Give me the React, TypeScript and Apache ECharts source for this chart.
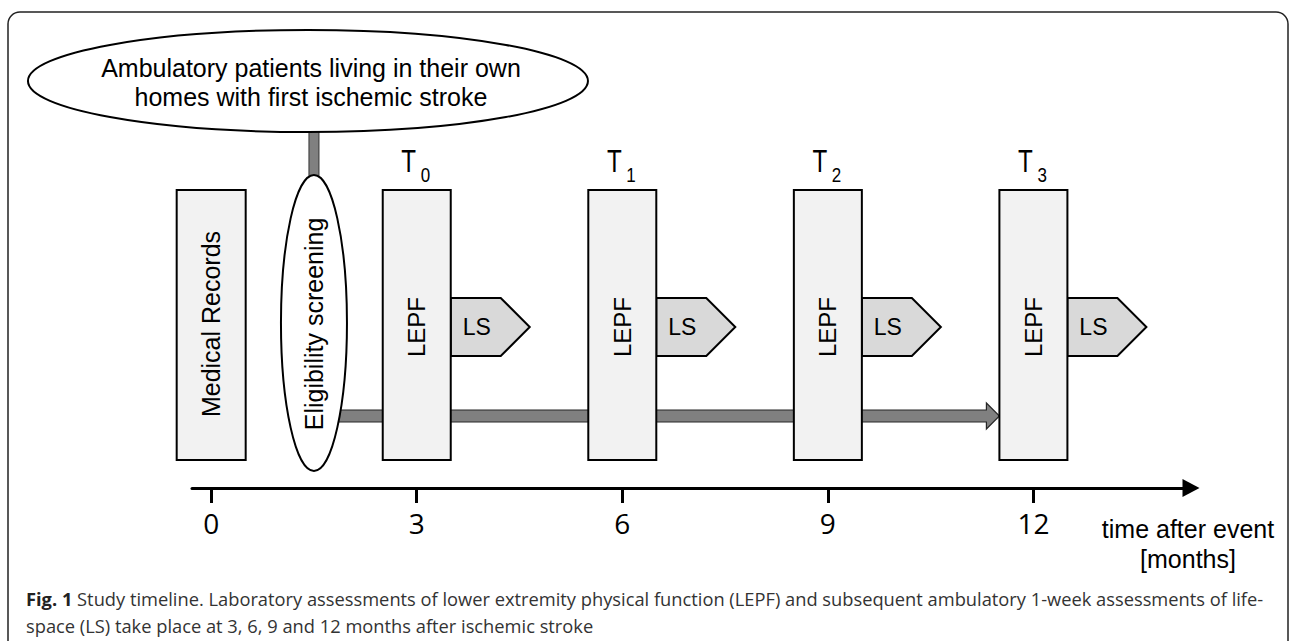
import React, { useEffect, useRef } from "react";
import * as echarts from "echarts";

// ---- data ----
const TICK_MONTHS = [0, 3, 6, 9, 12];
const ASSESS_MONTHS = [3, 6, 9, 12];
const ASSESS_SUBSCRIPTS = ["0", "1", "2", "3"];
const RECORDS_MONTH = 0;
const SCREEN_MONTH = 1.5;
const FLOW_END_MONTH = 12;
const BOX_LABEL = "LEPF";
const ARROW_LABEL = "LS";
const RECORDS_LABEL = "Medical Records";
const SCREEN_LABEL = "Eligibility screening";
const POP_LINES = ["Ambulatory patients living in their own", "homes with first ischemic stroke"];
const AXIS_NAME = "time after event\n[months]";
const CAPTION_BOLD = "Fig. 1";
const CAPTION_1 =
  " Study timeline. Laboratory assessments of lower extremity physical function (LEPF) and subsequent ambulatory 1-week assessments of life-";
const CAPTION_2 = "space (LS) take place at 3, 6, 9 and 12 months after ischemic stroke";

const SANS = "Liberation Sans, Arial, sans-serif";
const CAP_FONT = "Open Sans, sans-serif";
const BOX_FILL = "#f2f2f2";
const LS_FILL = "#d9d9d9";
const FLOW_FILL = "#808080";

export default function App() {
  const ref = useRef<HTMLDivElement>(null);

  useEffect(() => {
    if (!ref.current) return;
    const chart = echarts.init(ref.current, null, { renderer: "svg" });

    const option: any = {
      animation: false,
      backgroundColor: "#ffffff",
      grid: { left: 192, right: 102, top: 12, bottom: 153 },
      xAxis: {
        type: "value",
        min: -0.28,
        max: 14.3,
        splitLine: { show: false },
        axisLine: {
          show: true,
          onZero: false,
          lineStyle: { color: "#000", width: 3 },
          symbol: ["none", "triangle"],
          symbolSize: [18, 17],
        },
        axisTick: {
          show: true,
          customValues: TICK_MONTHS,
          length: 15,
          lineStyle: { color: "#000", width: 3 },
        },
        axisLabel: {
          customValues: TICK_MONTHS,
          fontSize: 28,
          fontFamily: CAP_FONT,
          color: "#000",
          margin: 21,
        },
        name: AXIS_NAME,
        nameLocation: "end",
        nameGap: -3,
        nameTextStyle: {
          fontFamily: SANS,
          fontSize: 25,
          color: "#000",
          align: "center",
          verticalAlign: "top",
          lineHeight: 30,
          padding: [26, 0, 0, 0],
        },
      },
      yAxis: { type: "value", min: 0, max: 476, show: false },
      series: [
        {
          type: "custom",
          name: "flow",
          data: [[SCREEN_MONTH, 0, FLOW_END_MONTH]],
          renderItem: (params: any, api: any) => {
            const [xs, y0] = api.coord([api.value(0), 0]);
            const [xe] = api.coord([api.value(2), 0]);
            const x1 = xs + 15;
            const tip = xe - 34;
            const hb = tip - 13;
            return {
              type: "polygon",
              shape: {
                points: [
                  [x1, y0 - 78],
                  [hb, y0 - 78],
                  [hb, y0 - 85],
                  [tip, y0 - 72],
                  [hb, y0 - 59],
                  [hb, y0 - 66],
                  [x1, y0 - 66],
                ],
              },
              style: { fill: FLOW_FILL, stroke: "#262626", lineWidth: 1.2 },
            };
          },
        },
        {
          type: "custom",
          name: "assessments",
          data: ASSESS_MONTHS.map((m) => [m, 0]),
          renderItem: (params: any, api: any) => {
            const [cx, y0] = api.coord([api.value(0), 0]);
            const i = params.dataIndex;
            const hw = 34;
            const top = y0 - 298;
            const bot = y0 - 28;
            const right = cx + hw;
            const lsTop = y0 - 190;
            const lsBot = y0 - 132;
            const lsMid = y0 - 161;
            return {
              type: "group",
              children: [
                {
                  type: "polygon",
                  shape: {
                    points: [
                      [right, lsTop],
                      [right + 50, lsTop],
                      [right + 79, lsMid],
                      [right + 50, lsBot],
                      [right, lsBot],
                    ],
                  },
                  style: { fill: LS_FILL, stroke: "#000", lineWidth: 2 },
                },
                {
                  type: "text",
                  x: right + 26,
                  y: lsMid,
                  style: {
                    text: ARROW_LABEL,
                    fontFamily: SANS,
                    fontSize: 23,
                    fill: "#000",
                    align: "center",
                    verticalAlign: "middle",
                  },
                },
                {
                  type: "rect",
                  shape: { x: cx - hw, y: top, width: hw * 2, height: bot - top },
                  style: { fill: BOX_FILL, stroke: "#000", lineWidth: 2 },
                },
                {
                  type: "text",
                  x: cx,
                  y: y0 - 161,
                  rotation: Math.PI / 2,
                  style: {
                    text: BOX_LABEL,
                    fontFamily: SANS,
                    fontSize: 24,
                    fill: "#000",
                    align: "center",
                    verticalAlign: "middle",
                  },
                },
                {
                  type: "text",
                  x: cx - 8,
                  y: top - 29,
                  scaleX: 0.78,
                  style: {
                    text: "T",
                    fontFamily: SANS,
                    fontSize: 31,
                    fill: "#000",
                    align: "center",
                    verticalAlign: "middle",
                  },
                },
                {
                  type: "text",
                  x: cx + 4,
                  y: top - 15,
                  scaleX: 0.85,
                  style: {
                    text: ASSESS_SUBSCRIPTS[i],
                    fontFamily: SANS,
                    fontSize: 20,
                    fill: "#000",
                    align: "left",
                    verticalAlign: "middle",
                  },
                },
              ],
            };
          },
        },
        {
          type: "custom",
          name: "records",
          data: [[RECORDS_MONTH, 0]],
          renderItem: (params: any, api: any) => {
            const [cx, y0] = api.coord([api.value(0), 0]);
            const hw = 34.5;
            return {
              type: "group",
              children: [
                {
                  type: "rect",
                  shape: { x: cx - hw, y: y0 - 298, width: hw * 2, height: 270 },
                  style: { fill: BOX_FILL, stroke: "#000", lineWidth: 2 },
                },
                {
                  type: "text",
                  x: cx,
                  y: y0 - 164,
                  rotation: Math.PI / 2,
                  style: {
                    text: RECORDS_LABEL,
                    fontFamily: SANS,
                    fontSize: 25,
                    fill: "#000",
                    align: "center",
                    verticalAlign: "middle",
                  },
                },
              ],
            };
          },
        },
        {
          type: "custom",
          name: "screening",
          data: [[SCREEN_MONTH, 0]],
          renderItem: (params: any, api: any) => {
            const [cx, y0] = api.coord([api.value(0), 0]);
            const popCx = cx - 6;
            const popCy = y0 - 407;
            return {
              type: "group",
              children: [
                {
                  type: "rect",
                  shape: { x: cx - 5, y: popCy + 48, width: 10, height: 50 },
                  style: { fill: FLOW_FILL, stroke: "#333", lineWidth: 1 },
                },
                {
                  type: "ellipse",
                  shape: { cx: popCx, cy: popCy, rx: 280, ry: 51 },
                  style: { fill: "#fff", stroke: "#000", lineWidth: 2 },
                },
                {
                  type: "text",
                  x: popCx + 3,
                  y: popCy - 13,
                  style: {
                    text: POP_LINES[0],
                    fontFamily: SANS,
                    fontSize: 25,
                    fill: "#000",
                    align: "center",
                    verticalAlign: "middle",
                  },
                },
                {
                  type: "text",
                  x: popCx + 3,
                  y: popCy + 16,
                  style: {
                    text: POP_LINES[1],
                    fontFamily: SANS,
                    fontSize: 25,
                    fill: "#000",
                    align: "center",
                    verticalAlign: "middle",
                  },
                },
                {
                  type: "ellipse",
                  shape: { cx: cx, cy: y0 - 165, rx: 33, ry: 148 },
                  style: { fill: "#fff", stroke: "#000", lineWidth: 2 },
                },
                {
                  type: "text",
                  x: cx,
                  y: y0 - 164,
                  rotation: Math.PI / 2,
                  style: {
                    text: SCREEN_LABEL,
                    fontFamily: SANS,
                    fontSize: 25,
                    fill: "#000",
                    align: "center",
                    verticalAlign: "middle",
                  },
                },
              ],
            };
          },
        },
      ],
      graphic: [
        {
          type: "rect",
          shape: { x: 8, y: 12, width: 1280, height: 660, r: 12 },
          style: { fill: "none", stroke: "#222", lineWidth: 1.5 },
          z: -10,
        },
        {
          type: "text",
          x: 26,
          y: 598,
          style: {
            text: "{b|" + CAPTION_BOLD + "}" + CAPTION_1,
            fontFamily: CAP_FONT,
            fontSize: 18.3,
            fill: "#333",
            verticalAlign: "middle",
            rich: {
              b: { fontFamily: CAP_FONT, fontSize: 18.3, fontWeight: "bold", fill: "#222" },
            },
          },
        },
        {
          type: "text",
          x: 26,
          y: 625,
          style: {
            text: CAPTION_2,
            fontFamily: CAP_FONT,
            fontSize: 18.3,
            fill: "#333",
            verticalAlign: "middle",
          },
        },
      ],
    };

    chart.setOption(option);
    return () => chart.dispose();
  }, []);

  return (
    <div
      ref={ref}
      style={{ position: "fixed", left: 0, top: 0, width: 1293, height: 641, background: "#fff" }}
    />
  );
}
